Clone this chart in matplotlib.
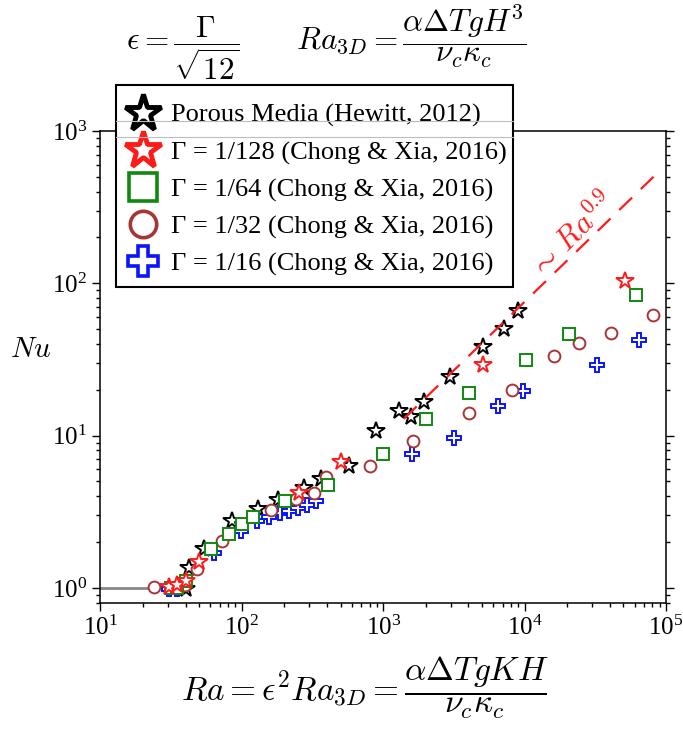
import matplotlib
matplotlib.use("Agg")
import matplotlib.pyplot as plt
from matplotlib.lines import Line2D
from matplotlib.patches import Rectangle
from matplotlib.ticker import LogLocator, LogFormatterMathtext, NullFormatter

plt.rcParams["mathtext.fontset"] = "stix"
plt.rcParams["font.family"] = ["Liberation Serif", "DejaVu Serif"]

# Porous media (Hewitt, 2012)
ra_hewitt = [40, 42.3, 54, 85.7, 130, 179, 276, 362, 575, 889, 1300, 1575, 1955, 2970, 5060, 7100, 8970]
nu_hewitt = [0.98, 1.36, 1.81, 2.74, 3.32, 3.80, 4.53, 5.19, 6.34, 10.7, 14.6, 13.3, 16.7, 24.3, 38.2, 49.8, 65.6]

# Hele-Shaw cells (Chong & Xia, 2016)
ra_g128 = [30.5, 34.9, 40.0, 49.8, 252, 505, 5060, 51200]
nu_g128 = [1.02, 1.04, 1.106, 1.48, 4.20, 6.73, 29.0, 104]

ra_g64 = [31.5, 35, 40, 60.5, 80.7, 100.8, 120.5, 201, 404, 1000, 2020, 4030, 10200, 20500, 61200]
nu_g64 = [1.0, 1.0, 1.11, 1.79, 2.26, 2.61, 2.94, 3.70, 4.73, 7.59, 12.9, 18.9, 31.6, 46.7, 84.4]

ra_g32 = [24.0, 39.5, 48.1, 72.8, 160, 241, 322, 395, 804, 1615, 4070, 8130, 16100, 24300, 40600, 81100]
nu_g32 = [1.02, 1.05, 1.325, 2.03, 3.24, 3.82, 4.20, 5.37, 6.29, 9.28, 14.0, 19.9, 33.3, 40.8, 47.4, 61.5]

ra_g16 = [30.5, 34.8, 63.5, 98.2, 129, 156, 186, 216, 251, 291, 334, 1600, 3190, 6440, 9800, 32700, 64300]
nu_g16 = [0.98, 0.99, 1.70, 2.36, 2.74, 2.93, 3.11, 3.19, 3.35, 3.52, 3.70, 7.56, 9.61, 15.7, 19.5, 29.0, 42.7]

# conduction state Nu = 1 below onset
ra_cond = [10, 24]
nu_cond = [1, 1]

# Ra^0.9 scaling guide
fit_prefactor = 0.019
fit_exponent = 0.9
ra_fit = [1400, 82000]
nu_fit = [fit_prefactor * r ** fit_exponent for r in ra_fit]

legend_labels = [
    "Porous Media (Hewitt, 2012)",
    "\u0393 = 1/128 (Chong & Xia, 2016)",
    "\u0393 = 1/64 (Chong & Xia, 2016)",
    "\u0393 = 1/32 (Chong & Xia, 2016)",
    "\u0393 = 1/16 (Chong & Xia, 2016)",
]

c_green = "#118811"
c_brown = "#a83535"
c_blue = "#0a14ff"
c_red = "#ff1a1a"

W, H = 683, 729
fig = plt.figure(figsize=(W / 100, H / 100), dpi=100)
ax = fig.add_axes([0.1471, 0.1733, 0.828, 0.647])

ax.plot(ra_cond, nu_cond, color="#888888", lw=2.0, zorder=1)
ax.plot(ra_fit, nu_fit, color=c_red, lw=1.6, dashes=(8, 5.5), zorder=5)

ax.plot(ra_hewitt, nu_hewitt, ls="none", marker="*", ms=13, mfc="white", mec="black", mew=1.4, zorder=2)
ax.plot(ra_g16, nu_g16, ls="none", marker="P", ms=10, mfc="white", mec=c_blue, mew=1.4, zorder=3)
ax.plot(ra_g32, nu_g32, ls="none", marker="o", ms=8.5, mfc="white", mec=c_brown, mew=1.4, zorder=3)
ax.plot(ra_g64, nu_g64, ls="none", marker="s", ms=8.5, mfc="white", mec=c_green, mew=1.4, zorder=4)
ax.plot(ra_g128, nu_g128, ls="none", marker="*", ms=13, mfc="white", mec=c_red, mew=1.4, zorder=6)

ax.set_xscale("log")
ax.set_yscale("log")
ax.set_xlim(10, 1e5)
ax.set_ylim(0.80, 1000)

for a in (ax.xaxis, ax.yaxis):
    a.set_major_locator(LogLocator(base=10, numticks=10))
    a.set_minor_locator(LogLocator(base=10, subs=range(2, 10), numticks=100))
    a.set_major_formatter(LogFormatterMathtext())
    a.set_minor_formatter(NullFormatter())

ax.tick_params(which="both", direction="out", right=True, top=False, width=1.0, labelsize=18)
ax.tick_params(which="major", length=6)
ax.tick_params(which="minor", length=3)
for s in ax.spines.values():
    s.set_linewidth(1.1)

ax.text(21700, 205, r"$\sim\, Ra^{0.9}$", color=c_red, fontsize=22, rotation=45,
        ha="center", va="center", math_fontfamily="cm")

# legend box drawn as its own frame so the padding can be set freely
fig.add_artist(Rectangle((116 / W, 1 - 287 / H), (513 - 116) / W, (287 - 85) / H,
                         transform=fig.transFigure, facecolor="white", edgecolor="black",
                         lw=1.5, zorder=19))

handles = [
    Line2D([], [], ls="none", marker="*", ms=28, mfc="white", mec="black", mew=3.5),
    Line2D([], [], ls="none", marker="*", ms=28, mfc="white", mec=c_red, mew=3.5),
    Line2D([], [], ls="none", marker="s", ms=20, mfc="white", mec=c_green, mew=2.6),
    Line2D([], [], ls="none", marker="o", ms=19, mfc="white", mec=c_brown, mew=2.6),
    Line2D([], [], ls="none", marker="P", ms=21, mfc="white", mec=c_blue, mew=2.6),
]
leg = fig.legend(handles, legend_labels, loc="upper left", bbox_to_anchor=(118 / W, 1 - 97 / H),
                 bbox_transform=fig.transFigure, borderaxespad=0, fontsize=19, frameon=False,
                 handlelength=1.4, handletextpad=0.35, borderpad=0.25, labelspacing=0.5)
leg.set_zorder(20)

for yy in (1 - 120.7 / H, 1 - 137.3 / H):
    fig.add_artist(Line2D([116 / W, 513 / W], [yy, yy], transform=fig.transFigure,
                          color="#bdbdbd", lw=0.8, zorder=30))

fig.text(0.478, 0.940,
         r"$\epsilon = \dfrac{\Gamma}{\sqrt{12}}\qquad Ra_{3D} = \dfrac{\alpha\Delta T g H^3}{\nu_c\kappa_c}$",
         fontsize=22.5, ha="center", va="center", math_fontfamily="cm")
fig.text(0.534, 0.056,
         r"$Ra = \epsilon^2 Ra_{3D} = \dfrac{\alpha\Delta T g K H}{\nu_c\kappa_c}$",
         fontsize=24, ha="center", va="center", math_fontfamily="cm")
fig.text(0.045, 0.52, r"$Nu$", fontsize=21, ha="center", va="center", math_fontfamily="cm")

fig.savefig("out.png", dpi=100)
